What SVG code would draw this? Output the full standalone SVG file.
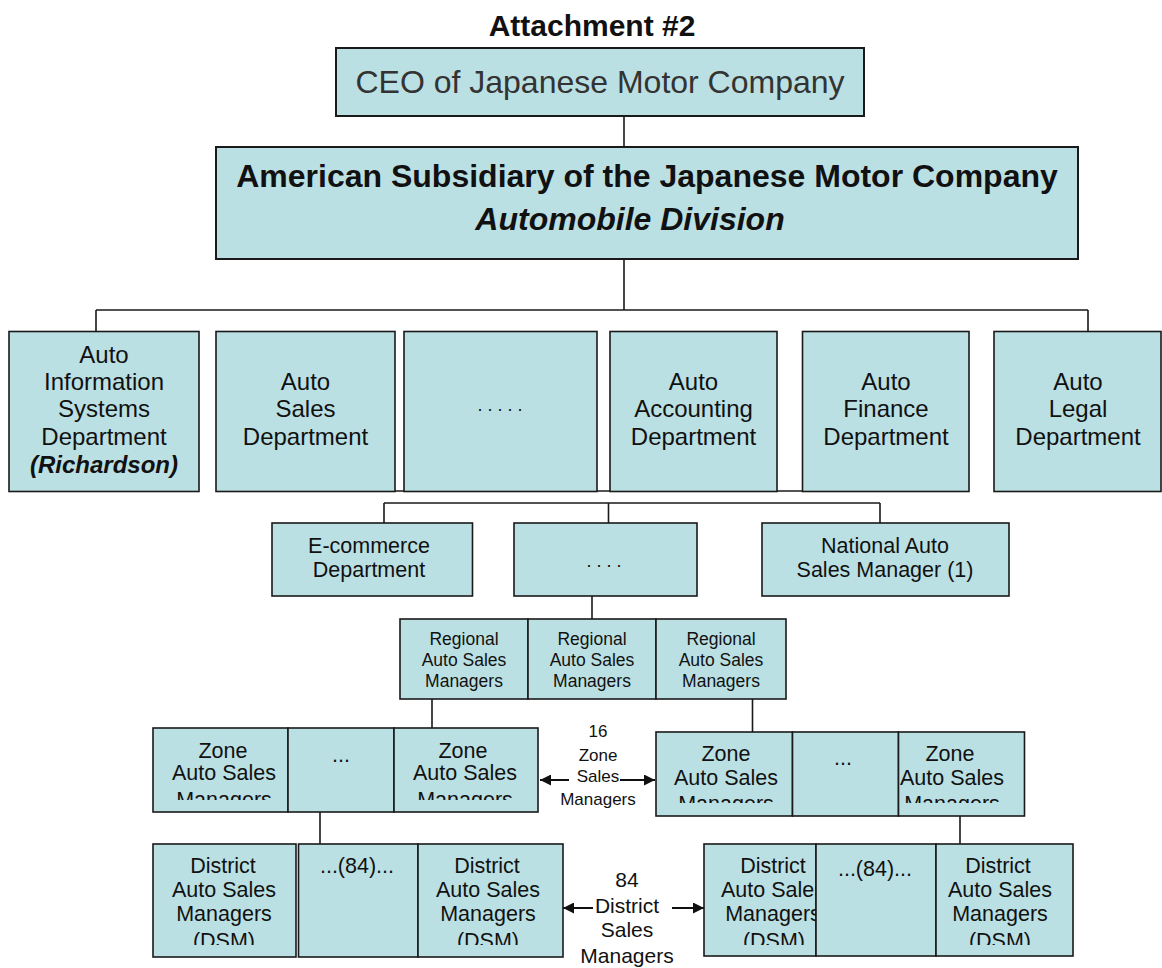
<svg xmlns="http://www.w3.org/2000/svg" width="1162" height="968" viewBox="0 0 1162 968">
<style>
.box{fill:#BBE0E3;stroke:#1a1a1a;stroke-width:1.6}
.ln{stroke:#1a1a1a;stroke-width:1.6;fill:none}
.arr{stroke:#111;stroke-width:2;fill:none}
.t{font-family:"Liberation Sans",Arial,sans-serif;fill:#111;text-anchor:middle}
.f24{font-size:24px}
.f21{font-size:21.5px}
.f17{font-size:17.5px}
.b{font-weight:bold}
.bi{font-weight:bold;font-style:italic}
</style>
<defs>
<marker id="ah" viewBox="0 0 10 10" refX="10" refY="5" markerWidth="13" markerHeight="11" markerUnits="userSpaceOnUse" orient="auto">
<path d="M0,0 L10,5 L0,10 z" fill="#111"/>
</marker>
<clipPath id="cZL"><rect x="0" y="0" width="1162" height="800"/></clipPath>
<clipPath id="cZR"><rect x="0" y="0" width="1162" height="803"/></clipPath>
<clipPath id="cD"><rect x="0" y="0" width="1162" height="945"/></clipPath>
</defs>
<rect width="1162" height="968" fill="#fff"/>

<text class="t b" x="592" y="36" style="font-size:30px">Attachment #2</text>

<g id="connectors">
<path class="ln" d="M624,116 V147"/>
<path class="ln" d="M624,259 V310 M96,310 H1088 M96,310 V331 M1088,310 V331"/>
<path class="ln" d="M395,491 H969"/>
<path class="ln" d="M384,503 H880 M384,503 V523 M608.5,503 V523 M880,503 V523"/>
<path class="ln" d="M592,596 V619"/>
<path class="ln" d="M432,699 V728 M752.5,699 V732"/>
<path class="ln" d="M320,812 V844 M960,816 V844"/>
<path class="arr" d="M569,780 H540" marker-end="url(#ah)"/>
<path class="arr" d="M620,780 H655" marker-end="url(#ah)"/>
<path class="arr" d="M593,908 H563" marker-end="url(#ah)"/>
<path class="arr" d="M672,908 H704" marker-end="url(#ah)"/>
</g>

<g id="ceo">
<rect class="box" x="336" y="48" width="528" height="68" style="stroke-width:2"/>
<text class="t" x="600" y="93" style="font-size:32px;fill:#333">CEO of Japanese Motor Company</text>
</g>
<g id="american">
<rect class="box" x="216" y="147" width="862" height="112" style="stroke-width:2"/>
<text class="t b" x="647" y="187" style="font-size:32px">American Subsidiary of the Japanese Motor Company</text>
<text class="t bi" x="630" y="230" style="font-size:32px">Automobile Division</text>
</g>

<g id="dept-info">
<rect class="box" x="9" y="331.5" width="190" height="160"/>
<text class="t f24" x="104" y="363">Auto</text>
<text class="t f24" x="104" y="390">Information</text>
<text class="t f24" x="104" y="417">Systems</text>
<text class="t f24" x="104" y="445">Department</text>
<text class="t f24 bi" x="104" y="473">(Richardson)</text>
</g>
<g id="dept-sales">
<rect class="box" x="216" y="331.5" width="179" height="160"/>
<text class="t f24" x="305.5" y="390">Auto</text>
<text class="t f24" x="305.5" y="417">Sales</text>
<text class="t f24" x="305.5" y="445">Department</text>
</g>
<g id="dept-dots">
<rect class="box" x="404" y="331.5" width="193" height="160"/>
<text class="t" x="500" y="411" style="font-size:18px">. . . . .</text>
</g>
<g id="dept-accounting">
<rect class="box" x="610" y="331.5" width="167" height="160"/>
<text class="t f24" x="693.5" y="390">Auto</text>
<text class="t f24" x="693.5" y="417">Accounting</text>
<text class="t f24" x="693.5" y="445">Department</text>
</g>
<g id="dept-finance">
<rect class="box" x="802.5" y="331.5" width="166.5" height="160"/>
<text class="t f24" x="886" y="390">Auto</text>
<text class="t f24" x="886" y="417">Finance</text>
<text class="t f24" x="886" y="445">Department</text>
</g>
<g id="dept-legal">
<rect class="box" x="994" y="331.5" width="167" height="160"/>
<text class="t f24" x="1078" y="390">Auto</text>
<text class="t f24" x="1078" y="417">Legal</text>
<text class="t f24" x="1078" y="445">Department</text>
</g>

<g id="ecommerce">
<rect class="box" x="272" y="523" width="200.5" height="73"/>
<text class="t f21" x="369" y="553">E-commerce</text>
<text class="t f21" x="369" y="576.5">Department</text>
</g>
<g id="mid-dots">
<rect class="box" x="514" y="523" width="183" height="73"/>
<text class="t" x="604" y="567" style="font-size:18px">. . . .</text>
</g>
<g id="national">
<rect class="box" x="762" y="523" width="247" height="73"/>
<text class="t f21" x="885" y="553">National Auto</text>
<text class="t f21" x="885" y="576.5">Sales Manager (1)</text>
</g>

<g id="regional">
<rect class="box" x="400" y="619" width="128" height="80"/>
<text class="t f17" x="464" y="644.5">Regional</text>
<text class="t f17" x="464" y="665.5">Auto Sales</text>
<text class="t f17" x="464" y="686.5">Managers</text>
<rect class="box" x="528" y="619" width="128" height="80"/>
<text class="t f17" x="592" y="644.5">Regional</text>
<text class="t f17" x="592" y="665.5">Auto Sales</text>
<text class="t f17" x="592" y="686.5">Managers</text>
<rect class="box" x="656" y="619" width="130" height="80"/>
<text class="t f17" x="721" y="644.5">Regional</text>
<text class="t f17" x="721" y="665.5">Auto Sales</text>
<text class="t f17" x="721" y="686.5">Managers</text>
</g>

<g id="zone-left">
<rect class="box" x="153" y="728" width="135" height="84"/>
<text class="t f21" x="223" y="757.5">Zone</text>
<text class="t f21" x="224" y="780">Auto Sales</text>
<text class="t f21" x="224" y="807" clip-path="url(#cZL)">Managers</text>
<rect class="box" x="288" y="728" width="106" height="84"/>
<text class="t f21" x="341" y="762">...</text>
<rect class="box" x="394" y="728" width="144" height="84"/>
<text class="t f21" x="463" y="757.5">Zone</text>
<text class="t f21" x="465" y="780">Auto Sales</text>
<text class="t f21" x="465" y="807" clip-path="url(#cZL)">Managers</text>
</g>

<g id="zone-right">
<rect class="box" x="656" y="732" width="136.5" height="84"/>
<text class="t f21" x="726" y="761">Zone</text>
<text class="t f21" x="726" y="785">Auto Sales</text>
<text class="t f21" x="726" y="811" clip-path="url(#cZR)">Managers</text>
<rect class="box" x="792.5" y="732" width="106" height="84"/>
<text class="t f21" x="843" y="765">...</text>
<rect class="box" x="898.5" y="732" width="126" height="84"/>
<text class="t f21" x="950" y="761">Zone</text>
<text class="t f21" x="952" y="785">Auto Sales</text>
<text class="t f21" x="952" y="811" clip-path="url(#cZR)">Managers</text>
</g>

<g id="zone-label">
<text class="t" x="598" y="737" style="font-size:17px">16</text>
<text class="t" x="598" y="761" style="font-size:17px">Zone</text>
<text class="t" x="598" y="782" style="font-size:17px">Sales</text>
<text class="t" x="598" y="805" style="font-size:17px">Managers</text>
</g>

<g id="district-left">
<rect class="box" x="153" y="844" width="143" height="113"/>
<text class="t f21" x="223" y="872.5">District</text>
<text class="t f21" x="224" y="896.5">Auto Sales</text>
<text class="t f21" x="224" y="920.5">Managers</text>
<text class="t f21" x="224" y="948" clip-path="url(#cD)">(DSM)</text>
<rect class="box" x="298.5" y="844" width="119.5" height="113"/>
<text class="t f21" x="357" y="873">...(84)...</text>
<rect class="box" x="418" y="844" width="145" height="113"/>
<text class="t f21" x="487" y="872.5">District</text>
<text class="t f21" x="488" y="896.5">Auto Sales</text>
<text class="t f21" x="488" y="920.5">Managers</text>
<text class="t f21" x="488" y="948" clip-path="url(#cD)">(DSM)</text>
</g>

<g id="district-right">
<rect class="box" x="704" y="844" width="112" height="112"/>
<text class="t f21" x="773" y="872.5">District</text>
<text class="t f21" x="773" y="896.5">Auto Sales</text>
<text class="t f21" x="773" y="920.5">Managers</text>
<text class="t f21" x="774" y="948" clip-path="url(#cD)">(DSM)</text>
<rect class="box" x="816" y="844" width="120" height="112"/>
<text class="t f21" x="875" y="876">...(84)...</text>
<rect class="box" x="936" y="844" width="137" height="112"/>
<text class="t f21" x="998" y="872.5">District</text>
<text class="t f21" x="1000" y="896.5">Auto Sales</text>
<text class="t f21" x="1000" y="920.5">Managers</text>
<text class="t f21" x="1000" y="948" clip-path="url(#cD)">(DSM)</text>
</g>

<g id="district-label">
<text class="t" x="627" y="887" style="font-size:21px">84</text>
<text class="t" x="627" y="913" style="font-size:21px">District</text>
<text class="t" x="627" y="937" style="font-size:21px">Sales</text>
<text class="t" x="627" y="963" style="font-size:21px">Managers</text>
</g>
</svg>
